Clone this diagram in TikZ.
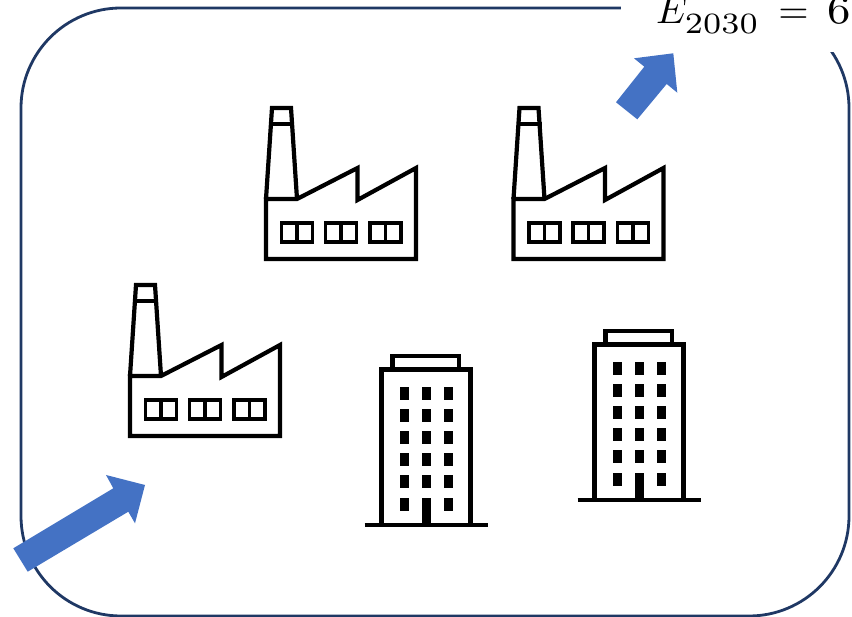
\documentclass[tikz,border=0pt]{standalone}
\definecolor{framecol}{HTML}{1F3864}
\definecolor{arrowcol}{HTML}{4472C4}
\tikzset{
    iconline/.style={line width=4.2pt, black, miter limit=10},
    framebox/.style={line width=2.8pt, framecol},
    bluearrow/.style={fill=arrowcol, draw=none},
}
% factory icon, top left of the chimney at (#1,#2)
\newcommand{\drawfactory}[2]{
    \begin{scope}[shift={(#1,#2)}]
        \draw[iconline] (0,91) -- (6,0) -- (25,0) -- (31,91);
        \draw[iconline] (3,16) -- (28,16);
        \draw[iconline] (0,91) -- (31,91) -- (91.5,60) -- (91.5,92) -- (150,60) -- (150,151) -- (0,151) -- cycle;
        \foreach \wx in {15.5,59.5,104}{
            \draw[iconline, line width=3.8pt] (\wx,115) rectangle ++(31,19);
            \draw[iconline, line width=3.8pt] (\wx+15.5,115) -- ++(0,19);
        }
    \end{scope}
}
% office icon, top left of the roof box at (#1,#2)
\newcommand{\drawoffice}[2]{
    \begin{scope}[shift={(#1,#2)}]
        \draw[iconline] (0,13.5) rectangle (66.5,0);
        \fill[white] (-11,13.5) rectangle (78,169);
        \draw[iconline] (-11,13.5) rectangle (78,169);
        \draw[iconline] (-28,169) -- (95,169);
        \foreach \wx in {11.5,33.5,56}{
            \foreach \wy in {31.5,53.5,75.5,97.5,119.5,142}{
                \fill[black] (\wx-4.5,\wy) rectangle ++(9,13);
            }
        }
        \fill[black] (33.5-4.5,142) rectangle (33.5+4.5,169);
    \end{scope}
}
\begin{document}
\begin{tikzpicture}[x=1pt, y=-1pt]
    \useasboundingbox (0,0) rectangle (852,617);
    \fill[white] (0,0) rectangle (852,617);

    % region outline, opened at the top right for the label
    \draw[framebox, rounded corners=100pt] (21,8) rectangle (849,616);
    \fill[white] (621,-5) rectangle (860,52);
    \node[anchor=base west, inner sep=0pt] (label) at (656,24)
        {\scalebox{3.9}{$E_{\raisebox{-0.9pt}{\scalebox{1.17}[1.08]{$\scriptstyle 2030$}}}\hspace{4.8pt}{=}\hspace{4.7pt}\scalebox{1.2}[1.05]{$6$}$}};

    % icons
    \drawfactory{266}{108}
    \drawfactory{513.5}{108}
    \drawfactory{130}{285}
    \drawoffice{392.5}{356}
    \drawoffice{605.5}{331}

    % flows in and out
    \fill[bluearrow] (13.3,548.3) -- (27.7,571.7) -- (128.3,511.7) -- (135,523.3) -- (145,485) -- (106,475) -- (113.3,488.3) -- cycle;
    \fill[bluearrow] (616,102.3) -- (637.3,119.3) -- (666.7,84) -- (677.3,92.7) -- (673.3,53.3) -- (634,58.3) -- (644.3,66.7) -- cycle;
\end{tikzpicture}
\end{document}
